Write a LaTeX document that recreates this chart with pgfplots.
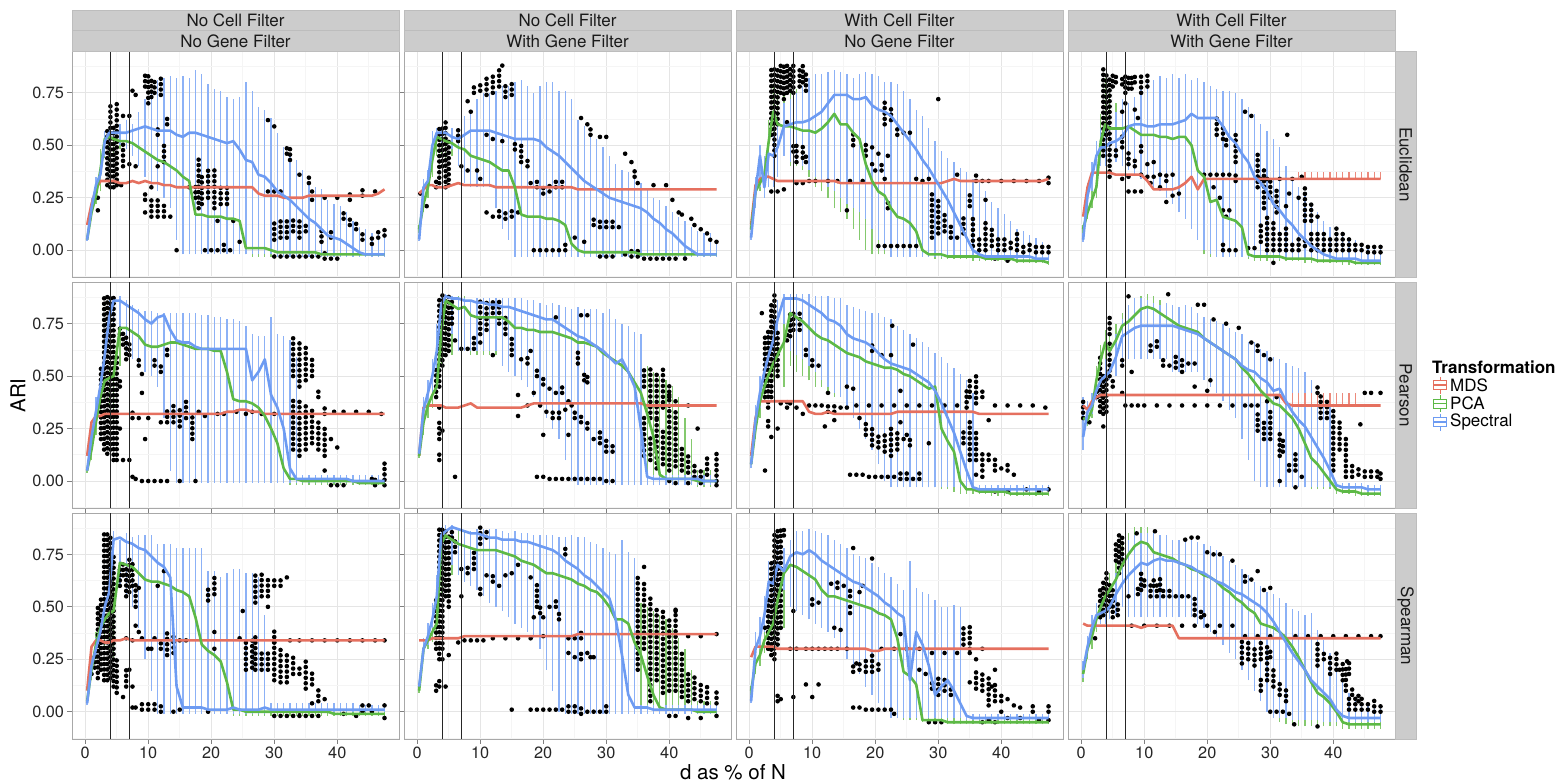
\documentclass[border=0pt]{standalone}
\usepackage{fontspec}
\setmainfont{TeX Gyre Heros}
\usepackage{pgfplots}
\usepackage{pgfplotstable}
\pgfplotsset{compat=1.18}

\definecolor{cMDS}{HTML}{E5705F}
\definecolor{cPCA}{HTML}{5DB946}
\definecolor{cSPE}{HTML}{6D9BF2}
\definecolor{wMDS}{HTML}{EC8A7C}
\definecolor{wPCA}{HTML}{84C96E}
\definecolor{wSPE}{HTML}{8CB1F6}
\definecolor{stripfill}{HTML}{CCCCCC}
\definecolor{stripline}{HTML}{BDBDBD}
\definecolor{panelframe}{HTML}{A8A8A8}

\newcommand\fTick{\fontsize{16.3bp}{19bp}\selectfont}
\newcommand\fStrip{\fontsize{17bp}{20bp}\selectfont}
\newcommand\fTitle{\fontsize{20.5bp}{24bp}\selectfont}
\newcommand\fLeg{\fontsize{17bp}{20bp}\selectfont}

% Per panel: d (x), and ARI x 100 for the median of MDS (m), PCA (p) and
% Spectral (s), with the whisker ends of PCA (plo, phi) and Spectral (slo, shi).
\pgfplotstableread{
x m p plo phi s slo shi
0.3 12 5 5 5 5 5 5
1.0 22 18 15 22 20 15 25
1.7 29 26 22 30 31 27 35
2.4 33 38 28 48 36 32 42
3.1 33 53 44 57 52 45 57
3.8 33 54 44 57 56 50 58
4.5 33 53 45 56 56 52 58
5.5 32 52 48 56 56 50 60
6.5 32 52 48 55 56 48 62
7.5 33 51 47 55 57 45 60
8.5 32 49 45 53 58 40 66
9.5 33 47 43 51 59 35 72
10.5 32 45 41 50 58 30 76
11.5 32 43 38 48 57 28 81
12.5 31 42 36 47 57 25 82
13.5 31 40 33 46 57 20 83
14.5 30 38 5 50 55 5 82
15.5 30 35 0 48 54 -2 83
16.5 30 33 0 46 56 -2 82
17.5 30 17 0 32 56 -2 86
18.5 30 17 0 30 55 -2 84
19.5 30 16 0 30 54 -2 79
20.5 30 16 0 30 53 -2 77
21.5 30 16 0 30 52 -2 76
22.5 30 15 0 30 51 -2 73
23.5 30 15 0 28 52 -2 72
24.5 30 14 0 25 48 -2 73
25.5 30 1 -2 15 43 -2 80
26.5 30 1 -3 4 42 -2 76
27.5 27 1 -3 3 36 -2 68
28.5 26 1 -3 3 35 -2 67
29.5 26 0 -3 2 32 -2 63
30.5 26 -1 -3 2 28 -3 56
31.5 25 -1 -3 1 26 -3 49
32.5 25 -1 -3 1 24 -3 46
33.5 25 -1 -3 1 21 -3 43
34.5 25 -1 -3 1 18 -3 38
35.5 26 -1 -3 1 15 -3 33
36.5 26 -1 -3 1 13 -3 30
37.5 26 -2 -3 0 10 -3 29
38.5 26 -2 -3 0 7 -3 24
39.5 26 -2 -3 0 6 -3 22
40.5 26 -2 -3 0 5 -3 21
41.5 26 -2 -3 0 3 -3 18
42.5 26 -2 -3 0 1 -3 14
43.5 26 -2 -3 0 -1 -3 11
44.5 26 -2 -3 0 -2 -3 10
45.5 26 -2 -3 0 -2 -3 8
46.5 27 -2 -3 0 -2 -3 8
47.5 29 -2 -3 0 -2 -3 8
}\tEa
\pgfplotstableread{
x m p plo phi s slo shi
0.3 27 10 8 12 5 5 5
1.0 29 22 18 26 30 25 34
1.7 31 30 25 35 33 28 38
2.4 31 43 35 50 50 40 57
3.1 30 54 45 57 56 50 58
3.8 30 53 45 56 56 50 58
4.5 30 52 44 55 56 50 58
5.5 31 51 45 55 54 48 58
6.5 32 49 44 54 53 40 58
7.5 31 48 43 53 55 32 64
8.5 31 45 40 50 57 30 67
9.5 31 44 39 49 57 30 72
10.5 31 43 38 48 57 30 75
11.5 31 42 37 47 57 30 75
12.5 30 40 35 45 56 20 76
13.5 30 38 33 44 55 10 78
14.5 30 38 30 44 54 5 78
15.5 30 30 2 40 53 -3 80
16.5 30 17 0 38 53 -3 81
17.5 30 16 0 30 53 -3 78
18.5 30 16 5 25 53 -3 75
19.5 30 16 10 22 52 -3 78
20.5 30 15 10 22 49 -3 80
21.5 30 15 10 22 47 -3 80
22.5 30 14 10 22 45 -3 76
23.5 30 12 8 20 42 -3 76
24.5 30 3 0 18 39 -3 72
25.5 29 0 -2 15 36 -3 62
26.5 29 -1 -3 1 33 -3 59
27.5 29 -1 -3 1 31 -3 56
28.5 29 -1 -3 1 29 -3 53
29.5 29 -1 -3 1 27 -3 49
30.5 29 -1 -3 1 25 -3 45
31.5 29 -1 -3 1 24 -3 41
32.5 29 -1 -3 1 23 -3 38
33.5 29 -1 -3 1 22 -3 37
34.5 29 -1 -3 1 21 -3 35
35.5 29 -2 -3 0 20 -3 32
36.5 29 -2 -3 0 18 -3 29
37.5 29 -2 -3 0 15 -3 25
38.5 29 -2 -3 0 13 -3 24
39.5 29 -2 -3 0 10 -3 21
40.5 29 -2 -3 0 8 -3 18
41.5 29 -2 -3 0 5 -3 16
42.5 29 -2 -3 0 2 -3 14
43.5 29 -2 -3 0 0 -3 11
44.5 29 -2 -3 0 -2 -3 9
45.5 29 -2 -3 0 -2 -3 8
46.5 29 -2 -3 0 -2 -3 8
47.5 29 -2 -3 0 -2 -3 5
}\tEb
\pgfplotstableread{
x m p plo phi s slo shi
0.3 12 10 10 10 6 5 8
1.0 31 28 24 32 28 20 35
1.7 34 32 28 40 45 30 50
2.4 35 36 30 45 30 25 45
3.1 35 52 40 62 46 30 55
3.8 34 66 55 78 45 30 55
4.5 33 60 50 75 49 35 60
5.5 33 59 45 75 59 45 70
6.5 33 59 40 76 60 42 72
7.5 33 58 40 77 61 42 75
8.5 33 57 38 75 61 40 78
9.5 33 57 35 74 62 38 82
10.5 33 56 30 72 64 35 84
11.5 33 58 28 74 66 33 84
12.5 33 61 25 76 70 30 85
13.5 33 65 20 78 74 28 86
14.5 32 60 18 76 74 25 85
15.5 32 60 15 76 74 22 84
16.5 32 56 10 74 72 20 82
17.5 32 53 5 70 72 18 84
18.5 32 41 0 60 73 15 85
19.5 32 33 -2 55 69 10 84
20.5 32 28 -2 50 67 5 83
21.5 32 26 -2 45 66 0 80
22.5 32 20 -2 40 64 -3 80
23.5 32 16 -3 35 60 -3 79
24.5 32 15 -3 32 56 -3 76
25.5 32 13 -3 28 52 -3 72
26.5 32 9 -3 22 48 -3 67
27.5 32 0 -3 10 43 -3 64
28.5 32 -2 -3 5 39 -3 58
29.5 32 -2 -4 0 34 -3 52
30.5 32 -2 -4 0 29 -3 47
31.5 33 -3 -4 0 24 -3 44
32.5 34 -3 -4 0 18 -3 42
33.5 33 -3 -4 -1 12 -3 39
34.5 33 -3 -4 -1 6 -3 37
35.5 33 -3 -5 -1 0 -3 34
36.5 33 -3 -5 -1 -2 -4 33
37.5 33 -4 -5 -2 -3 -4 28
38.5 33 -4 -5 -2 -3 -4 23
39.5 33 -4 -5 -2 -3 -4 20
40.5 33 -4 -5 -2 -3 -4 17
41.5 33 -4 -5 -2 -3 -4 14
42.5 33 -5 -6 -3 -3 -4 10
43.5 33 -5 -6 -3 -3 -4 9
44.5 33 -5 -6 -3 -3 -4 7
45.5 33 -5 -6 -3 -4 -5 6
46.5 33 -5 -6 -3 -4 -5 4
47.5 34 -6 -7 -3 -4 -5 2
}\tEc
\pgfplotstableread{
x m p plo phi s slo shi
0.3 16 10 8 12 5 4 8
1.0 30 18 15 22 26 20 32
1.7 37 24 20 30 35 28 42
2.4 37 30 25 45 45 35 52
3.1 37 52 45 65 49 40 58
3.8 37 60 50 82 49 40 60
4.5 37 58 48 75 51 42 62
5.5 36 58 45 70 52 42 66
6.5 36 58 48 66 54 40 72
7.5 36 59 49 67 59 38 70
8.5 36 57 47 65 60 36 73
9.5 36 55 45 63 60 34 78
10.5 33 55 45 63 59 32 81
11.5 29 55 45 63 59 30 81
12.5 29 54 44 62 60 28 83
13.5 29 54 44 62 60 25 82
14.5 29 53 43 61 60 22 84
15.5 30 54 44 62 61 18 82
16.5 32 54 44 62 62 15 84
17.5 35 50 20 62 65 10 81
18.5 29 38 5 60 63 5 82
19.5 34 35 -2 58 63 0 80
20.5 34 23 -3 55 63 -2 78
21.5 34 24 -3 50 63 -3 77
22.5 34 16 -3 45 59 -3 76
23.5 34 15 -3 40 54 -3 76
24.5 34 14 -3 35 51 -3 75
25.5 34 11 -3 30 46 -3 72
26.5 34 -2 -4 10 42 -3 68
27.5 34 -3 -5 0 35 -3 65
28.5 34 -3 -5 0 32 -3 60
29.5 34 -3 -5 0 28 -3 57
30.5 34 -3 -5 -1 22 -4 53
31.5 34 -3 -5 -1 19 -4 49
32.5 34 -4 -5 -1 15 -4 40
33.5 34 -4 -5 -1 12 -4 33
34.5 34 -4 -5 -1 8 -4 30
35.5 34 -4 -6 -2 5 -4 27
36.5 34 -4 -6 -2 2 -4 22
37.5 34 -5 -6 -2 0 -4 18
38.5 34 -5 -6 -2 -2 -4 14
39.5 34 -5 -6 -3 -3 -5 11
40.5 34 -5 -6 -3 -4 -5 8
41.5 34 -5 -7 -3 -4 -5 8
42.5 34 -5 -7 -3 -4 -5 6
43.5 34 -6 -7 -3 -4 -5 5
44.5 34 -6 -7 -4 -5 -5 3
45.5 34 -6 -7 -4 -5 -6 2
46.5 34 -6 -7 -4 -5 -6 2
47.5 34 -6 -7 -4 -5 -6 1
}\tEd
\pgfplotstableread{
x m p plo phi s slo shi
0.3 12 5 4 6 5 5 5
1.0 28 15 10 20 21 15 28
1.7 31 28 22 35 33 28 40
2.4 31 40 32 48 45 38 55
3.1 32 48 38 55 60 50 72
3.8 32 49 35 55 78 65 86
4.5 32 50 27 52 86 75 88
5.5 32 73 55 80 86 70 88
6.5 32 73 63 81 84 60 86
7.5 32 71 61 79 82 58 84
8.5 32 69 59 77 80 55 82
9.5 32 65 55 73 77 52 81
10.5 32 64 54 72 75 50 81
11.5 32 64 54 72 78 45 80
12.5 32 65 55 73 79 30 80
13.5 32 66 56 74 72 5 80
14.5 32 66 56 74 67 -1 80
15.5 32 65 55 73 66 -1 80
16.5 32 64 54 72 66 -1 80
17.5 32 63 53 71 64 -1 80
18.5 32 63 53 71 63 -1 79
19.5 32 63 53 71 63 -1 79
20.5 32 62 52 70 63 -1 78
21.5 32 62 52 70 63 -1 78
22.5 33 52 0 60 63 -1 77
23.5 33 39 0 60 63 -1 77
24.5 34 38 0 60 63 -1 76
25.5 34 38 0 60 63 -1 74
26.5 33 37 0 60 48 -1 70
27.5 33 35 0 60 52 -1 69
28.5 32 31 0 60 58 -1 69
29.5 32 25 0 58 41 -1 78
30.5 32 18 0 55 35 -1 70
31.5 32 6 0 50 25 -1 69
32.5 32 1 -2 2 6 -1 67
33.5 32 1 -2 2 1 -1 59
34.5 32 0 -2 2 1 -1 3
35.5 32 0 -2 2 1 -1 3
36.5 32 0 -2 2 1 -1 3
37.5 32 0 -2 2 1 -1 3
38.5 32 0 -2 2 1 -1 3
39.5 32 0 -2 2 1 -1 3
40.5 32 0 -2 2 1 -1 3
41.5 32 0 -2 2 1 -1 3
42.5 32 0 -2 2 0 -1 3
43.5 32 -1 -2 1 0 -1 3
44.5 32 -1 -2 1 0 -1 3
45.5 32 -1 -2 1 0 -1 3
46.5 32 -1 -2 1 0 -1 3
47.5 32 -1 -2 1 0 -1 3
}\tPa
\pgfplotstableread{
x m p plo phi s slo shi
0.3 12 12 11 13 13 12 14
1.0 35 28 22 32 34 28 40
1.7 36 36 30 42 42 36 48
2.4 36 41 35 48 50 42 58
3.1 36 45 40 55 62 50 75
3.8 36 70 55 85 84 70 89
4.5 35 86 70 89 88 75 89
5.5 35 84 60 88 87 70 88
6.5 35 82 62 88 87 62 87
7.5 36 83 62 88 86 62 87
8.5 37 79 60 86 86 62 86
9.5 35 78 60 85 85 62 87
10.5 35 78 60 85 85 62 87
11.5 35 78 60 85 84 62 87
12.5 35 78 60 85 84 62 87
13.5 35 78 55 85 83 55 87
14.5 35 76 55 84 83 52 87
15.5 35 73 52 82 82 50 87
16.5 35 73 50 82 81 48 87
17.5 36 72 50 80 80 45 86
18.5 37 72 50 80 79 40 86
19.5 37 71 50 80 78 35 85
20.5 37 71 50 79 77 30 84
21.5 37 71 56 81 77 25 85
22.5 37 70 55 80 75 20 84
23.5 37 69 54 79 73 10 83
24.5 37 68 53 78 71 0 82
25.5 37 66 51 76 69 -2 83
26.5 37 66 51 76 68 -2 82
27.5 37 65 50 75 66 -2 82
28.5 37 64 49 74 64 -2 82
29.5 37 61 46 71 62 -2 80
30.5 37 59 44 69 59 -2 82
31.5 37 57 42 67 56 -2 77
32.5 37 55 40 65 58 -2 75
33.5 37 52 37 62 52 -2 74
34.5 37 47 10 60 45 -2 71
35.5 37 42 0 58 25 -2 70
36.5 36 32 -2 55 2 -2 3
37.5 36 21 -2 52 1 -2 3
38.5 36 3 -2 50 1 -2 3
39.5 36 1 -2 48 1 -2 3
40.5 36 1 -2 45 1 -2 3
41.5 36 1 -2 40 1 -2 3
42.5 36 1 -2 30 1 -2 3
43.5 36 1 -2 20 1 -2 3
44.5 36 0 -3 5 1 -2 3
45.5 36 0 -3 5 0 -2 3
46.5 36 0 -3 5 0 -2 3
47.5 36 0 -3 5 0 -2 3
}\tPb
\pgfplotstableread{
x m p plo phi s slo shi
0.3 12 8 7 9 8 6 10
1.0 30 25 20 30 29 22 36
1.7 38 38 30 45 42 35 50
2.4 38 45 38 52 52 45 60
3.1 38 51 45 58 60 52 70
3.8 38 56 48 64 67 58 78
4.5 38 60 50 70 77 65 86
5.5 38 66 45 80 87 75 89
6.5 38 80 55 84 87 62 89
7.5 38 78 52 84 87 60 89
8.5 38 76 50 82 86 58 89
9.5 33 73 48 80 84 55 89
10.5 32 70 45 78 82 52 88
11.5 32 68 45 76 80 48 88
12.5 33 67 42 74 77 45 88
13.5 32 65 40 72 76 42 87
14.5 32 63 40 70 74 40 87
15.5 32 61 40 68 70 35 84
16.5 32 60 40 66 68 30 83
17.5 32 59 49 67 67 25 82
18.5 32 57 47 65 66 20 81
19.5 32 56 46 64 64 15 80
20.5 32 55 45 63 61 8 80
21.5 32 54 44 62 58 0 78
22.5 32 54 44 62 56 -3 77
23.5 33 53 43 61 55 -3 74
24.5 33 51 41 59 54 -3 72
25.5 33 50 40 58 53 -3 70
26.5 33 48 5 52 51 -3 68
27.5 33 46 0 50 49 -3 66
28.5 33 44 -3 50 47 -3 64
29.5 33 45 -3 48 43 -3 61
30.5 33 25 -4 42 37 -3 59
31.5 33 19 -4 35 30 -3 56
32.5 33 14 -5 25 23 -3 54
33.5 33 0 -6 -2 14 -3 51
34.5 33 -4 -6 -3 5 -3 48
35.5 33 -4 -6 -3 -3 -4 42
36.5 32 -5 -6 -3 -4 -5 -2
37.5 32 -5 -6 -3 -4 -5 -2
38.5 32 -5 -7 -4 -4 -5 -2
39.5 32 -5 -7 -4 -4 -5 -2
40.5 32 -5 -7 -4 -4 -5 -2
41.5 32 -6 -7 -4 -4 -5 -2
42.5 32 -6 -7 -4 -4 -5 -2
43.5 32 -6 -7 -4 -4 -5 -2
44.5 32 -6 -7 -4 -4 -5 -2
45.5 32 -6 -7 -4 -4 -5 -2
46.5 32 -6 -7 -4 -4 -5 -2
47.5 32 -6 -7 -4 -4 -5 -2
}\tPc
\pgfplotstableread{
x m p plo phi s slo shi
0.3 36 30 28 35 21 15 40
1.0 34 29 26 33 33 28 38
1.7 38 34 30 40 36 32 42
2.4 40 48 40 55 43 38 50
3.1 41 58 50 65 48 42 55
3.8 41 66 55 72 50 45 58
4.5 41 62 55 70 52 48 62
5.5 41 67 60 75 59 50 70
6.5 41 74 66 80 69 55 77
7.5 41 76 68 82 71 58 84
8.5 41 79 71 85 73 58 87
9.5 41 82 74 88 74 58 87
10.5 41 83 75 89 74 58 86
11.5 41 82 74 88 74 58 85
12.5 41 80 72 86 74 58 84
13.5 41 78 70 84 74 58 85
14.5 41 76 68 82 74 52 84
15.5 41 74 66 80 73 52 83
16.5 41 73 65 79 72 52 84
17.5 41 72 64 78 71 52 83
18.5 41 71 63 77 70 52 80
19.5 41 68 60 74 68 48 78
20.5 41 66 58 72 66 45 77
21.5 41 64 56 70 64 42 76
22.5 41 62 54 68 62 38 75
23.5 41 60 52 66 60 34 73
24.5 41 58 50 64 58 30 71
25.5 41 54 46 60 55 20 70
26.5 41 51 43 57 53 10 66
27.5 41 47 39 53 52 0 66
28.5 41 43 35 49 49 -3 63
29.5 41 40 32 46 47 -3 62
30.5 41 37 29 43 43 -3 59
31.5 41 36 28 42 44 -3 58
32.5 37 33 25 39 38 -3 56
33.5 36 30 -3 45 33 -3 55
34.5 36 25 -3 40 29 -3 54
35.5 36 18 -3 33 26 -3 52
36.5 36 11 -4 26 21 -3 48
37.5 36 8 -4 22 16 -3 43
38.5 36 4 -4 18 11 -3 40
39.5 36 0 -4 10 5 -3 37
40.5 36 -4 -6 -2 -2 -4 -1
41.5 36 -5 -6 -2 -3 -4 -1
42.5 36 -5 -6 -2 -3 -4 -1
43.5 36 -5 -7 -3 -3 -4 -1
44.5 36 -6 -7 -3 -3 -4 -1
45.5 36 -6 -7 -3 -4 -5 -2
46.5 36 -6 -7 -3 -4 -5 -2
47.5 36 -6 -7 -3 -4 -5 -2
}\tPd
\pgfplotstableread{
x m p plo phi s slo shi
0.3 10 5 4 6 4 3 5
1.0 31 20 15 25 22 18 27
1.7 34 32 25 38 30 27 35
2.4 34 40 33 45 38 32 45
3.1 33 44 30 50 50 40 60
3.8 33 47 30 50 57 50 70
4.5 34 48 25 70 82 65 86
5.5 34 71 60 76 83 60 82
6.5 35 70 62 75 81 55 85
7.5 34 69 61 74 80 50 83
8.5 34 66 58 71 78 40 84
9.5 34 63 55 68 77 25 84
10.5 34 62 54 67 74 10 84
11.5 34 62 54 67 71 -1 80
12.5 34 61 53 66 69 -1 80
13.5 34 60 52 65 64 -1 80
14.5 34 58 50 63 12 -1 78
15.5 34 57 49 62 2 -1 78
16.5 34 55 47 60 2 -1 78
17.5 34 45 30 58 2 -1 78
18.5 34 32 20 50 2 -1 78
19.5 34 29 0 66 1 -1 67
20.5 34 27 0 60 1 -1 67
21.5 34 24 0 45 1 -1 64
22.5 34 14 -1 30 1 -1 66
23.5 34 1 -2 2 2 -1 68
24.5 34 1 -2 2 1 -1 68
25.5 34 0 -2 2 1 -1 66
26.5 34 0 -2 2 1 -1 66
27.5 34 0 -2 2 1 -1 64
28.5 34 0 -2 2 2 -1 46
29.5 34 0 -2 2 1 0 4
30.5 34 0 -2 2 1 0 4
31.5 34 0 -2 2 1 0 4
32.5 34 0 -2 2 1 0 4
33.5 34 0 -2 2 1 0 4
34.5 34 0 -2 2 1 0 4
35.5 34 0 -2 2 1 0 4
36.5 34 0 -2 2 1 0 4
37.5 34 0 -2 2 1 0 4
38.5 34 0 -2 1 1 0 4
39.5 34 -1 -2 1 1 0 4
40.5 34 -1 -2 1 1 0 4
41.5 34 -1 -2 1 1 0 4
42.5 34 -1 -2 1 1 0 4
43.5 34 -1 -2 1 1 0 3
44.5 34 -1 -2 1 1 0 3
45.5 34 -1 -2 1 1 0 3
46.5 34 -1 -2 1 1 0 3
47.5 34 -1 -2 1 1 0 3
}\tSa
\pgfplotstableread{
x m p plo phi s slo shi
0.3 34 10 9 12 12 11 13
1.0 34 30 25 33 30 25 35
1.7 34 34 30 38 36 32 42
2.4 35 38 33 44 44 40 52
3.1 35 42 35 55 55 50 65
3.8 35 80 55 86 84 70 88
4.5 35 84 72 88 86 75 89
5.5 35 82 65 86 88 70 89
6.5 35 80 68 87 87 65 82
7.5 36 79 67 86 86 62 85
8.5 36 78 66 85 85 60 86
9.5 36 77 65 84 85 58 87
10.5 36 77 65 84 84 55 87
11.5 36 77 65 84 83 52 87
12.5 36 77 65 84 83 50 87
13.5 36 76 64 83 82 48 86
14.5 36 75 63 82 82 45 85
15.5 36 74 64 82 82 42 86
16.5 36 72 62 80 81 40 85
17.5 36 71 61 79 81 38 85
18.5 36 70 60 78 80 35 84
19.5 36 68 58 76 79 30 84
20.5 36 66 56 74 78 20 84
21.5 36 66 56 74 77 10 84
22.5 36 65 55 73 75 0 83
23.5 36 64 54 72 72 -1 83
24.5 36 63 53 71 70 -1 84
25.5 37 61 51 69 68 -1 83
26.5 37 60 50 68 65 -1 83
27.5 37 58 48 66 63 -1 81
28.5 37 57 47 65 60 -1 80
29.5 37 54 44 62 57 -1 78
30.5 37 50 40 58 54 -1 76
31.5 37 44 20 55 44 -1 75
32.5 37 44 15 55 27 -1 82
33.5 37 42 10 52 8 -1 76
34.5 37 33 5 52 2 -1 73
35.5 37 27 0 52 2 -1 3
36.5 37 17 0 50 2 -1 3
37.5 37 8 0 48 1 -1 3
38.5 37 2 -1 46 1 -1 3
39.5 37 1 -1 44 1 -1 3
40.5 37 1 -1 40 1 -1 3
41.5 37 1 -1 35 1 -1 3
42.5 37 1 -1 30 1 -1 3
43.5 37 1 -1 20 1 -1 3
44.5 37 0 -1 5 1 -1 3
45.5 37 0 -1 5 1 -1 3
46.5 37 0 -1 5 1 -1 3
47.5 37 0 -1 5 1 -1 3
}\tSb
\pgfplotstableread{
x m p plo phi s slo shi
0.3 26 10 8 12 5 4 8
1.0 31 23 18 28 30 22 38
1.7 31 27 22 32 36 30 45
2.4 31 34 28 40 46 38 55
3.1 31 38 32 45 62 50 72
3.8 31 42 35 50 61 50 72
4.5 30 53 40 62 70 60 80
5.5 30 66 40 75 67 58 78
6.5 30 70 55 82 74 50 82
7.5 30 69 54 79 76 48 86
8.5 30 67 52 77 75 46 86
9.5 30 65 50 75 77 44 87
10.5 30 63 48 73 75 42 86
11.5 30 58 43 68 72 40 85
12.5 30 55 43 65 70 38 84
13.5 30 55 43 63 68 35 82
14.5 30 54 42 62 66 30 80
15.5 30 53 41 61 64 25 78
16.5 30 52 40 60 62 22 75
17.5 30 51 39 59 61 18 74
18.5 30 50 38 58 59 12 73
19.5 29 49 37 57 57 8 71
20.5 29 47 35 55 55 4 69
21.5 30 46 34 54 52 0 66
22.5 30 44 0 55 50 -3 64
23.5 30 35 -3 52 47 -3 61
24.5 30 19 -4 48 45 -3 58
25.5 30 17 -4 40 15 -3 72
26.5 30 13 -4 25 38 -3 59
27.5 30 -4 -5 -3 32 -3 57
28.5 30 -4 -5 -3 22 -3 56
29.5 30 -4 -5 -3 8 -3 53
30.5 30 -4 -5 -3 12 -3 50
31.5 30 -5 -6 -3 15 -3 50
32.5 30 -5 -6 -3 10 -3 51
33.5 30 -5 -6 -3 4 -3 50
34.5 30 -5 -6 -3 -2 -4 -1
35.5 30 -5 -6 -4 -3 -4 -1
36.5 30 -5 -6 -4 -3 -4 -1
37.5 30 -5 -6 -4 -3 -4 -1
38.5 30 -5 -6 -4 -3 -4 -1
39.5 30 -5 -6 -4 -3 -4 -1
40.5 30 -5 -6 -4 -3 -4 -1
41.5 30 -5 -6 -4 -3 -4 -1
42.5 30 -5 -6 -4 -3 -4 -1
43.5 30 -5 -6 -4 -3 -4 -1
44.5 30 -5 -6 -4 -3 -4 -1
45.5 30 -5 -6 -4 -3 -4 -1
46.5 30 -5 -6 -4 -3 -4 -1
47.5 30 -5 -6 -4 -3 -4 -1
}\tSc
\pgfplotstableread{
x m p plo phi s slo shi
0.3 42 18 14 22 20 16 24
1.0 41 30 25 35 31 26 36
1.7 41 36 30 42 40 34 46
2.4 41 44 38 50 46 40 52
3.1 41 50 44 56 47 42 54
3.8 41 55 48 62 48 42 56
4.5 41 58 50 66 50 44 58
5.5 41 63 52 72 56 46 66
6.5 41 70 50 80 61 50 75
7.5 41 75 55 85 65 45 82
8.5 41 79 58 88 68 45 84
9.5 40 81 60 88 71 45 85
10.5 41 80 60 88 70 45 85
11.5 41 76 58 86 72 45 85
12.5 41 75 55 84 73 45 84
13.5 41 74 64 82 72 45 84
14.5 41 73 63 81 72 45 82
15.5 35 71 61 79 71 45 82
16.5 35 70 60 78 70 45 82
17.5 35 68 58 76 69 45 82
18.5 35 67 57 75 67 42 81
19.5 35 65 55 73 66 40 80
20.5 35 64 54 72 64 38 79
21.5 35 62 52 70 62 35 77
22.5 35 59 49 67 61 32 74
23.5 35 57 47 65 59 28 72
24.5 35 54 44 62 57 25 70
25.5 35 52 42 60 56 20 68
26.5 35 49 30 58 54 15 65
27.5 35 47 20 55 52 10 62
28.5 35 42 10 52 50 5 60
29.5 35 41 0 50 47 0 57
30.5 35 40 -3 48 43 -3 56
31.5 35 38 -5 46 38 -3 54
32.5 35 35 -6 44 33 -3 52
33.5 35 31 -6 40 28 -4 49
34.5 35 26 -7 35 24 -4 48
35.5 35 20 -7 30 20 -4 46
36.5 35 14 -7 25 15 -4 47
37.5 35 9 -7 18 12 -4 39
38.5 35 7 -7 14 9 -5 34
39.5 35 4 -7 10 6 -5 28
40.5 35 0 -7 5 1 -5 22
41.5 35 -5 -8 -3 -2 -5 15
42.5 35 -6 -8 -3 -3 -5 9
43.5 35 -6 -8 -3 -3 -5 6
44.5 35 -6 -8 -3 -3 -5 4
45.5 35 -6 -8 -3 -3 -5 3
46.5 35 -6 -8 -3 -3 -5 3
47.5 35 -6 -8 -3 -3 -5 3
}\tSd

% Outlying runs: d, lowest and highest ARI x 100 of each column of points
\pgfplotstableread{
x lo hi
2 19 19
2 25 27
3.5 31 58
4 30 70
4.5 30 60
5 31 72
5.7 31 33
6 40 52
6 64 66
7 64 64
7 41 43
7.5 76 76
8 74 76
8 40 40
9.5 78 84
10 70 84
10.5 73 82
11 75 82
12 74 83
9.5 24 28
9.5 18 20
10.5 16 24
11.5 16 24
12.5 16 22
13.5 16 17
10.5 30 32
11.5 40 40
11.5 55 58
12.5 42 52
13 60 64
14.5 0 0
16.5 30 32
17.5 25 32
18 20 45
18.5 22 36
19 0 0
19.5 25 39
20 0 1
20.5 20 38
21 0 0
21.5 22 30
22 0 4
22.5 22 32
23 0 0
23.5 14 15
24.5 4 4
21 14 15
29 62 64
30 59 59
32 46 51
32.5 43 50
30 5 15
31 6 15
32 6 15
33 9 15
34 6 14
35 9 12
34 36 38
35.5 32 35
36 28 28
30 -3 -1
31 -3 -2
32 -3 -2
33 -3 -2
34 -3 -2
35 -3 -1
36 -3 -1
37 -3 -1
38 -4 -1
39 -4 -2
40 -4 -2
37.5 4 10
39 6 10
41 15 20
42 12 16
43 10 13
44 5 8
45.5 3 8
46.5 6 10
47.5 7 12
36 24 26
38 25 26
40 25 27
42 24 27
44 26 29
46 28 30
29 28 30
30 28 30
31 28 30
}\dEa
\pgfplotstableread{
x lo hi
0.5 27 27
1.5 21 23
3 30 33
3.5 32 58
4 40 60
4.5 30 62
5 31 52
6.5 52 58
7 40 41
8 38 40
9.5 38 40
10 34 35
8 71 72
8.5 66 68
9 75 78
10 76 80
11 74 82
12 75 83
13 78 86
14 73 80
15 74 80
13.5 88 88
11 55 56
12 53 55
13.5 52 54
15.5 48 52
16.5 42 50
17.5 40 44
18 32 34
19 30 35
20 27 32
21 28 32
22 30 33
23 30 34
11 18 20
12 16 18
13 16 21
14 15 20
15 16 20
16 18 20
18.5 0 0
19.5 0 0
20.5 0 0
21.5 0 0
22.5 0 1
23.5 0 4
26 63 64
27 60 62
27.5 55 58
29 54 55
30 54 55
33 46 47
34 42 44
34.5 35 40
35 32 33
37.5 31 31
39.5 31 31
40.5 24 24
41.5 18 20
42 17 18
43.5 15 16
44 12 14
45 10 10
46 8 8
46.5 5 6
47.5 4 6
28 12 15
29 11 15
30 11 14
31 11 15
32 11 13
29 -3 -3
30 -3 -3
31 -3 -3
33 -2 -1
34 -3 0
35 -3 0
36 -4 -2
37 -4 -2
38 -4 -2
39 -4 -2
40 -4 -2
41 -4 -3
42.5 -4 -3
25 6 6
26.5 4 4
}\dEb
\pgfplotstableread{
x lo hi
3.5 55 88
4 45 88
4.5 60 88
5 75 88
5.5 72 88
6 75 88
6.5 76 88
7 75 88
8 78 88
8.5 80 88
9 76 86
3.5 28 30
4.5 28 30
5.5 29 29
6 61 61
7 47 50
7.5 42 52
8.5 44 50
9 42 47
7.5 32 32
8.5 32 32
9.5 33 33
10.5 33 33
12.5 33 33
14 33 33
16 33 33
18 33 33
15.5 19 19
16.5 50 56
18.5 45 52
19.5 49 49
20.5 46 46
21 38 41
22 45 45
19.5 41 43
21.5 34 34
20 38 38
21.5 60 71
22.5 62 68
23.5 55 60
24.5 56 57
25.5 56 56
22 20 25
20.5 2 3
21.5 2 2
22.5 2 2
23.5 2 3
24.5 2 3
25.5 2 2
26.5 2 2
26.5 34 35
27.5 33 35
28.5 34 35
29 6 27
30 8 24
31 9 17
32 6 13
33 6 8
34 8 8
35 21 28
36 33 37
37 33 33
38 33 33
40 33 33
42 33 33
44 33 33
46 33 33
47.5 32 35
34 10 16
35.5 2 17
36.5 0 7
37.5 0 13
38.5 2 10
39.5 0 7
40.5 0 6
41.5 1 4
42.5 0 8
43.5 -1 4
44.5 0 4
45.5 -1 3
46.5 -1 3
47.5 -1 3
33 36 36
30 72 72
37.5 24 24
39 -4 -4
41 -5 -5
}\dEc
\pgfplotstableread{
x lo hi
3.5 45 87
4 55 85
4.5 35 82
5 78 84
5.5 80 85
6.5 79 84
7 75 83
7.5 77 84
8 77 84
8.5 80 84
9.5 75 83
10.5 78 84
6.5 66 68
7 70 70
8.5 67 67
9 63 63
5.5 45 50
6.5 49 55
7.5 41 47
8.5 40 44
9.5 47 50
10.5 41 43
11.5 42 42
6.5 34 36
7.5 35 35
9.5 36 37
10.5 35 37
11.5 35 36
12.5 36 36
13.5 33 36
14.5 36 36
7.5 28 29
8.5 28 28
9.5 28 28
11 32 33
12.5 30 30
13.5 23 23
14.5 26 28
15.5 27 28
19.5 36 37
20.5 36 36
21.5 55 64
22.5 53 59
23 50 54
24.5 42 55
21.5 36 36
22.5 36 36
23.5 36 36
24.5 33 36
21 30 31
22 25 27
22.5 19 20
23.5 19 20
23 16 17
22.5 0 3
23.5 0 2
24.5 0 2
26.5 1 2
27.5 1 2
26 66 67
27 64 65
28 30 46
29 20 40
30 25 35
31 18 30
28.5 34 35
29.5 34 36
31.5 34 36
33.5 34 36
35 35 35
28.5 4 14
29.5 0 16
30.5 0 14
31.5 0 10
32.5 0 12
33.5 0 5
34.5 0 7
35.5 2 7
36.5 0 10
37.5 0 9
38.5 0 9
39.5 0 7
40.5 0 11
41.5 0 10
42.5 0 7
43.5 0 5
44.5 0 4
45.5 -1 4
46.5 -1 3
47.5 -1 3
35.5 14 30
36.5 14 24
37.5 16 18
32.7 55 55
34.5 25 25
30.5 -6 -6
33 27 27
32.5 21 23
}\dEd
\pgfplotstableread{
x lo hi
2.5 20 55
3 15 88
3.5 13 88
4 15 88
4.5 10 88
5 10 60
5.5 70 73
6 65 72
6.5 58 70
7 60 67
5.5 45 50
5.5 25 25
6 10 12
7 10 12
7.5 2 3
8 1 2
9 0 2
10 0 2
11 0 2
12 0 2
13 0 2
15 0 0
17.5 0 0
8.5 55 58
9 51 53
11 55 58
12 52 55
13 60 64
9.5 20 22
9 42 42
7.5 30 34
8.5 30 32
10 30 32
12 28 30
13 28 35
14 28 36
15 26 35
16 30 38
17 20 32
18 33 33
19 31 32
21 32 33
22 32 33
24 33 33
25.5 32 34
26.5 33 34
28 32 33
30 32 33
33 50 69
34 45 67
35 48 64
36 50 58
37 40 45
33 15 40
34 12 40
35 15 38
36 18 35
37 15 30
38 12 25
39 20 22
40 16 18
38 5 7
38 32 35
39.5 33 33
41 33 33
43 33 33
45 33 33
47 32 33
39 -2 0
40 -2 -1
41 -2 0
46 -2 1
47.5 -2 10
45.5 1 1
}\dPa
\pgfplotstableread{
x lo hi
3 40 55
3.5 45 88
4 55 89
4.5 60 88
5 62 88
5.5 75 86
3.5 20 30
3.5 35 35
3.5 10 15
4 24 26
6 67 67
6 2 2
7 63 65
8 63 63
9 63 70
10 70 86
11 72 87
12 80 86
13 75 86
14 70 80
15 60 70
10 66 66
16.5 58 58
17.5 56 60
19 50 54
20 46 50
18 62 62
12 60 60
21 44 45
22 42 44
23 42 45
24 38 40
25 30 35
26 28 33
27 25 30
28 20 22
29 18 25
30 14 21
31 14 17
24.5 36 37
25.5 56 63
26.5 48 53
27 47 50
22 78 78
26 79 80
27 79 81
16 31 31
16 41 41
18.5 42 42
17.5 36 38
19.5 36 38
20.5 33 35
21.5 30 34
22.5 30 33
23.5 34 35
20 22 22
24 22 22
19 2 3
20 2 3
21 1 3
22 1 3
23 1 3
24 1 3
25 1 3
26 1 3
27 1 3
28 1 3
29 1 2
30 0 2
31 0 2
36 45 55
37 30 55
38 30 52
39 35 55
40 40 46
36 12 30
37 10 22
38 6 30
39 8 25
40 5 42
41 7 33
42 5 17
43 4 12
44 2 8
45 2 6
46 3 12
47.5 0 13
40 0 0
41 -1 0
43 -1 -1
45 -1 -1
47.5 -2 -1
41 38 38
43 36 36
44.5 25 25
}\dPb
\pgfplotstableread{
x lo hi
2 80 80
2.5 40 70
3 35 72
3.5 40 85
4 55 90
4.5 50 72
3 26 30
2.5 5 7
3.5 21 23
4.5 25 27
5 37 37
6 67 72
6.5 69 80
7 72 82
8 72 80
9 60 64
10 55 58
11 55 57
6 35 38
6.5 37 38
7.5 35 36
8.5 32 33
9.5 36 37
10.5 36 37
11.5 36 37
12.5 33 38
13.5 33 38
14.5 35 37
15.5 35 37
17 36 37
19 36 37
21 36 37
23 36 37
25 36 37
27 36 37
29 36 37
31 36 37
33 36 37
12 26 27
12.5 42 42
13.5 29 31
15.5 45 45
16.5 44 45
17.5 30 30
18.5 22 28
19.5 17 27
20.5 16 23
21.5 14 24
22.5 12 27
23.5 15 25
24.5 20 22
25.5 17 20
24 28 28
25 22 22
19.5 62 66
21 60 62
22.5 60 62
22.7 74 74
26 65 65
24 43 43
28.5 18 18
16 3 5
17 3 4
18 3 4
19 2 4
20 2 4
21 2 4
22 2 4
23 2 4
24 1 4
25 1 4
26 1 3
27 1 4
35 40 50
36 37 50
37 40 45
34.5 35 45
34 18 25
35 10 30
36 10 25
37 5 15
38 10 14
39 5 12
40 6 7
41 5 8
42 3 5
36 3 5
37 2 2
39 36 37
41 36 37
43 36 36
45 36 36
47 35 35
38 29 29
39 -5 -4
41 -5 -5
46 -5 -5
47.5 -4 -4
44 -4 -4
}\dPc
\pgfplotstableread{
x lo hi
0.3 30 40
1.3 28 29
2.5 40 44
3 33 60
3.5 32 52
4 33 50
4.5 50 66
4.5 70 80
5 45 50
3.5 26 28
6.5 42 42
7.5 88 90
7 36 37
8 36 36
9 36 36
10 36 36
12 36 36
14 36 36
16 36 36
18 36 36
20 36 36
22 36 37
24 36 36
26 36 36
28 36 36
6.5 55 60
8 52 52
11 62 67
12 64 68
13 55 60
15 54 60
16 55 59
17 56 58
18 56 58
14 55 57
16 52 52
18 45 45
20.5 48 50
20 43 43
21 77 78
13.8 89 89
18.5 84 84
19.5 84 84
23 75 75
25 73 73
27 66 68
28 62 65
29 60 62
30 58 60
29.5 38 40
31 40 41
27 36 37
28 24 32
29 20 30
30 20 33
31.5 12 24
32 14 20
33 5 10
34 5 14
31.5 0 0
34 -3 -3
35 2 2
37.5 42 45
38 30 42
39 30 40
40 5 34
41 15 30
42 2 22
43 2 8
44 3 8
45 2 7
46 2 7
47 2 6
47.5 1 6
45 42 42
46 42 42
47.5 42 42
44.3 27 27
}\dPd
\pgfplotstableread{
x lo hi
1 18 18
1.5 21 27
2 16 50
2.5 20 55
3 15 85
3.5 15 86
4 16 84
4.5 12 74
5 9 25
5.5 60 68
6 65 72
6.5 55 70
7 57 73
7.5 60 72
8 50 62
8.5 59 60
6 7 7
6.5 12 20
7 20 22
7.5 12 13
6.5 35 35
7.5 34 34
8.5 38 38
8 41 41
9 35 36
7.5 2 4
8 2 4
9 1 4
10 1 5
11 1 4
12 0 4
10 30 30
10.5 30 30
11 35 36
12 30 33
13 27 38
14 28 36
15 34 36
16 34 35
11.5 60 60
12.5 67 67
14 0 0
15 1 1
19.5 0 1
19.5 53 60
20.5 56 65
20.5 38 39
20.5 30 30
24.5 35 35
25 48 48
25.5 20 35
26.5 21 35
27 52 66
28 55 66
29 55 64
30 60 65
31 60 64
32 64 64
27 20 37
28 20 30
29 20 30
30 15 39
31 14 30
32 14 28
33 18 26
34 18 22
35 11 24
36 13 20
37 5 12
38 6 6
29 50 52
30 33 35
32.5 34 35
34 34 35
36 34 35
38 34 35
40 34 35
42 34 35
44 34 35
46 34 35
47.5 34 35
30 -2 -2
31 -2 -2
32 -2 -2
33 -2 -2
34 -2 -2
35 -2 -2
36 -2 -1
37 -2 -1
41 -1 -1
43 -2 -2
44 0 0
45.5 0 0
34 0 0
36 4 4
44 3 3
45 3 3
47.5 3 3
47.5 -3 -3
}\dSa
\pgfplotstableread{
x lo hi
3 30 55
3.5 25 88
4 30 88
4.5 55 88
5 50 85
3 10 13
3.5 12 16
4 25 27
4.5 12 14
5 27 27
5.5 83 86
6 76 82
7 68 70
8 66 70
9 68 78
10 80 88
11 83 87
6.5 33 35
7.5 34 36
8.5 34 36
9.5 34 36
10.5 34 36
12 35 36
14 35 36
16 35 36
18 35 36
20 36 37
7 55 55
10 56 60
11 65 65
12 62 65
14 65 65
15 66 66
16 70 70
13 60 60
18 64 66
19 50 62
19.5 47 50
18.5 45 45
20 45 45
21 50 52
22 50 55
22.5 44 48
24 35 36
25 35 37
26 35 40
27 28 30
24 28 30
25 26 28
26 25 30
27.5 26 28
28 26 28
23.5 75 79
15 1 1
18 1 3
19 1 3
20 1 3
21 1 3
22 1 3
23 1 3
24 0 3
25 0 3
26 -1 2
27 0 2
28 0 2
29 0 2
30 0 3
35 20 65
36 30 63
37 5 55
38 15 49
39 9 50
40 10 45
41 10 50
42 7 30
43 5 20
44 6 18
45 5 15
46 4 12
47.5 4 10
36 69 69
41 48 48
43 36 37
45 36 36
47.5 37 37
40 -2 -1
41 -2 -1
43 -3 -2
45 -3 -2
47.5 -2 -2
}\dSb
\pgfplotstableread{
x lo hi
3 30 55
3.5 27 72
4 25 85
4.5 32 88
5 40 88
5.5 84 88
4.5 5 8
5 6 7
3 38 38
2.5 40 42
6.5 30 31
7.5 30 31
9 30 31
10 30 31
11 30 31
12 30 31
13 30 31
14 30 31
15.5 30 31
7 48 48
7 7 7
9 13 13
10 7 7
11 13 13
10 51 55
11 52 52
13 61 63
14 59 64
15 60 60
16 55 60
17.5 57 58
18 60 60
13.5 40 40
14.5 39 39
16 47 47
16.5 19 24
17.5 20 25
18.5 19 25
19.5 19 27
20.5 20 25
17 23 24
16 50 50
16.5 2 3
17.5 2 3
18.5 1 3
19.5 1 3
20.5 1 3
21.5 1 3
22.5 1 3
23 -1 0
21 30 30
23 30 31
25 30 30
27 30 30
29 28 30
31 28 30
33 28 30
35 28 30
37 30 30
16.5 78 78
19.5 73 73
24 37 37
27 20 20
28 18 18
29 11 16
30 8 16
31 10 16
32 8 11
28.5 -5 -5
29.5 -5 -5
30.5 -5 -5
34 32 42
35 30 41
36 11 19
37 10 20
38 3 18
39 5 15
40 5 10
41 6 6
42 3 3
43 2 4
45 0 3
47.5 0 3
35 14 14
37 -5 -5
38 -4 -4
39 -5 -5
40 0 0
41 -3 -3
43 -3 -3
46 -4 -4
47.5 -4 -4
36 25 25
39 20 20
38.5 12 12
}\dSc
\pgfplotstableread{
x lo hi
2.2 35 35
3 45 60
3.5 46 62
4 48 66
4.5 50 62
5 45 58
5.5 72 82
6 66 84
6.5 70 84
5.8 46 52
7.5 55 57
9 56 60
10 60 63
11 55 62
12 55 62
13 55 58
14 55 58
15 55 56
16 55 56
17 55 55
9.5 58 66
11.5 60 65
12.5 58 64
8.8 85 85
11.7 86 86
16.5 82 84
17.5 83 84
18.5 83 83
20 76 78
21 75 77
22 75 76
24 72 72
18 46 54
19 45 50
19.5 46 48
26 62 66
27 63 65
28 67 67
29 58 60
30 59 61
8 41 42
10 41 42
12 41 42
14 41 42
16 41 42
18 41 42
20 41 42
22 41 42
24 41 42
21.2 38 38
26 36 37
28 36 37
30 36 37
32 36 37
34 36 37
36 36 37
38 36 37
40 36 37
42 36 37
44 36 37
46 36 37
47.5 36 37
25.5 23 34
26.5 25 35
27.5 22 30
28.5 25 33
29.5 23 33
30 26 30
28.5 10 17
29.5 15 22
30.5 12 20
31.5 8 15
32.5 5 12
30 0 1
31 0 1
32 0 0
33 -1 -1
33.8 -6 -6
37.5 -7 -7
37.5 22 34
38.5 25 30
39.5 18 26
40.5 20 28
41.5 15 24
42.5 18 24
42 10 22
43 8 12
44 5 8
42.5 1 7
43.5 1 8
44.5 1 7
45.5 1 6
46.5 0 6
47.5 0 5
41 20 20
42.2 24 24
}\dSd
% MDS whisker stubs where they stand out
\pgfplotstableread{
x lo hi
34.5 34 37
35.5 34 37
36.5 34 37
37.5 34 37
38.5 34 37
39.5 34 37
40.5 34 37
41.5 34 37
42.5 34 37
43.5 34 37
44.5 34 37
45.5 34 37
46.5 34 37
47.5 34 37
}\mEd
\pgfplotstableread{
x lo hi
33.5 36 42
34.5 36 42
35.5 36 42
36.5 36 42
37.5 36 42
38.5 36 42
39.5 36 42
40.5 36 42
41.5 36 42
42.5 36 42
43.5 36 42
}\mPd

\pgfplotsset{
  panel/.style={
    scale only axis, width=327bp, height=226bp, anchor=north west,
    xmin=-2.1, xmax=49.8, ymin=-13, ymax=94.7,
    xtick={0,10,20,30,40}, minor xtick={5,15,25,35,45},
    ytick={0,25,50,75}, minor ytick={-12.5,12.5,37.5,62.5,87.5},
    xticklabels={0,10,20,30,40}, yticklabels={0.00,0.25,0.50,0.75},
    xmajorticks=false, ymajorticks=false,
    grid=both,
    major grid style={draw=black!10, line width=0.9bp},
    minor grid style={draw=black!4, line width=0.6bp},
    axis line style={draw=panelframe, line width=1bp},
    tick align=outside, major tick length=4.5bp, minor tick length=0bp,
    tick style={draw=black!50, line width=0.9bp},
    tick label style={font=\fTick, text=black!85},
  },
  leftcol/.style={ymajorticks=true},
  bottomrow/.style={xmajorticks=true},
}
\tikzset{vline/.style={draw=black!85, line width=1bp}}

% vertical segments from (x, lo) to (x, hi), all in one quiver plot
\newcommand\segs[5]{% #1 style, #2 table, #3 lo column, #4 hi column
\addplot[forget plot,mark=none,#1,
  quiver={u=0,v={\thisrow{#4}-\thisrow{#3}+0.05}}]
  table[x=x,y=#3]{#2};#5}

% #1 placement, #2 summary table, #3 outlier table, #4 extra layers
\newcommand\panel[4]{%
\begin{axis}[panel,#1]
\segs{draw=wPCA,line width=1.3bp}{#2}{plo}{phi}{}
\segs{draw=wSPE,line width=1.3bp}{#2}{slo}{shi}{}
#4
\segs{draw=black,line width=4.6bp,line cap=round,dash pattern=on 0bp off 5.4bp}{#3}{lo}{hi}{}
\addplot[cMDS,line width=2.6bp,mark=none,line join=round] table[x=x,y=m]{#2};
\addplot[cPCA,line width=2.6bp,mark=none,line join=round] table[x=x,y=p]{#2};
\addplot[cSPE,line width=2.6bp,mark=none,line join=round] table[x=x,y=s]{#2};
\draw[vline] (axis cs:4,-13) -- (axis cs:4,94.7);
\draw[vline] (axis cs:7,-13) -- (axis cs:7,94.7);
\end{axis}}

\begin{document}
\begin{tikzpicture}
\path[use as bounding box] (0,0) rectangle (1564bp,-781bp);

% Euclidean
\panel{at={(72bp,-51.5bp)},leftcol}{\tEa}{\dEa}{}
\panel{at={(404bp,-51.5bp)}}{\tEb}{\dEb}{}
\panel{at={(736bp,-51.5bp)}}{\tEc}{\dEc}{}
\panel{at={(1068bp,-51.5bp)}}{\tEd}{\dEd}{\segs{draw=wMDS,line width=1.3bp}{\mEd}{lo}{hi}{}}
% Pearson
\panel{at={(72bp,-282.3bp)},leftcol}{\tPa}{\dPa}{}
\panel{at={(404bp,-282.3bp)}}{\tPb}{\dPb}{}
\panel{at={(736bp,-282.3bp)}}{\tPc}{\dPc}{}
\panel{at={(1068bp,-282.3bp)}}{\tPd}{\dPd}{\segs{draw=wMDS,line width=1.3bp}{\mPd}{lo}{hi}{}}
% Spearman
\panel{at={(72bp,-513bp)},leftcol,bottomrow}{\tSa}{\dSa}{}
\panel{at={(404bp,-513bp)},bottomrow}{\tSb}{\dSb}{}
\panel{at={(736bp,-513bp)},bottomrow}{\tSc}{\dSc}{}
\panel{at={(1068bp,-513bp)},bottomrow}{\tSd}{\dSd}{}

\begin{scope}[x=1bp,y=1bp]
  % facet strips
  \foreach \L/\a/\b in {72/No Cell Filter/No Gene Filter,404/No Cell Filter/With Gene Filter,
                        736/With Cell Filter/No Gene Filter,1068/With Cell Filter/With Gene Filter}{
    \draw[fill=stripfill,draw=stripline,line width=0.6bp] (\L,-10) rectangle ++(327,-20.7);
    \draw[fill=stripfill,draw=stripline,line width=0.6bp] (\L,-30.7) rectangle ++(327,-20.8);
    \node[font=\fStrip,text=black!90] at (\L+163.5,-20.4) {\a};
    \node[font=\fStrip,text=black!90] at (\L+163.5,-41.1) {\b};
  }
  \foreach \T/\n in {51.5/Euclidean,282.3/Pearson,513/Spearman}{
    \draw[fill=stripfill,draw=stripline,line width=0.6bp] (1395.2,-\T) rectangle ++(21,-226);
    \node[font=\fStrip,text=black!90,rotate=-90] at (1405.7,-\T-113) {\n};
  }
  % axis titles
  \node[font=\fTitle,rotate=90] at (18,-395.5) {ARI};
  \node[font=\fTitle] at (733,-772) {d as \% of N};
  % legend
  \node[font=\fLeg\bfseries,anchor=west,inner sep=0pt] at (1432,-367) {Transformation};
  \foreach \y/\c/\n in {385/cMDS/MDS,403.5/cPCA/PCA,422/cSPE/Spectral}{
    \draw[\c,line width=1bp] (1440,-\y+8.5) -- (1440,-\y+4.5);
    \draw[\c,line width=1bp] (1440,-\y-4.5) -- (1440,-\y-8.5);
    \draw[\c,line width=1bp,fill=white] (1433.5,-\y+4.5) rectangle (1446.5,-\y-4.5);
    \draw[\c,line width=1.6bp] (1433.5,-\y) -- (1446.5,-\y);
    \node[font=\fLeg,anchor=west,inner sep=0pt] at (1450,-\y) {\n};
  }
\end{scope}
\end{tikzpicture}
\end{document}
